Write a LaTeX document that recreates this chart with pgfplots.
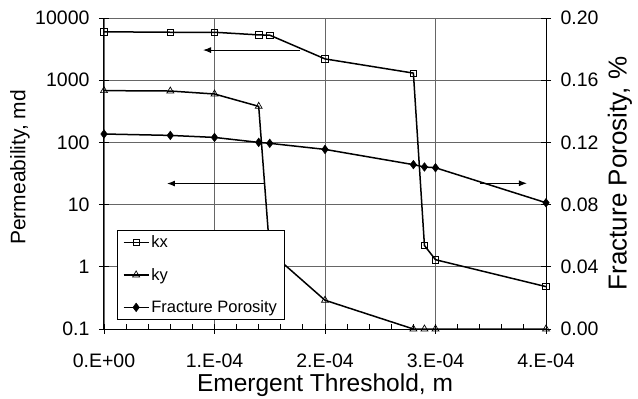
\documentclass[border=0pt]{standalone}
\usepackage{fontspec}
\setmainfont{Liberation Sans}
\usepackage{pgfplots}
\pgfplotsset{compat=1.18}
\usetikzlibrary{arrows.meta}
\newcommand\tickfont{\fontsize{19.5}{22}\selectfont}
\begin{document}
\begin{tikzpicture}
\path[use as bounding box] (-104pt,-70pt) rectangle (534pt,329pt);
\pgfplotsset{
  kxstyle/.style={black, line width=1.5pt, mark=square, mark size=3.2pt, mark options={fill=white, line width=0.7pt}},
  kystyle/.style={black, line width=1.5pt, mark=triangle, mark size=4pt, mark options={fill=white, line width=0.7pt}},
  porstyle/.style={black, line width=1.5pt, mark=diamond*, mark size=4.3pt, mark options={fill=black, line width=0.5pt}},
}
\begin{axis}[
  at={(0pt,0pt)}, anchor=south west, scale only axis, width=442pt, height=311pt,
  xmin=0, xmax=4e-4, ymode=log, log basis y=10, ymin=0.1, ymax=10000,
  axis x line*=bottom, axis y line*=left, axis line style={-, black, line width=1pt},
  xtick={0,1e-4,2e-4,3e-4,4e-4}, xticklabels={0.E+00,1.E-04,2.E-04,3.E-04,4.E-04},
  minor x tick num=4, scaled x ticks=false,
  ytick={0.1,1,10,100,1000,10000}, yticklabels={0.1,1,10,100,1000,10000},
  minor y tick style={draw=none},
  tick align=center, major tick length=10pt, minor tick length=5pt,
  minor x tick style={yshift=2.5pt},
  tick style={black, line width=0.8pt},
  xmajorgrids, ymajorgrids, major grid style={black!60, line width=0.7pt},
  ticklabel style={font=\tickfont},
  xticklabel style={yshift=-16pt},
  yticklabel style={xshift=-6pt},
  /pgf/number format/assume math mode=true,
  xlabel={Emergent Threshold, m}, ylabel={Permeability, md},
  xlabel style={font=\fontsize{24.5}{26}\selectfont, at={(axis description cs:0.5,-0.2016)}, anchor=base},
  ylabel style={font=\fontsize{21}{24}\selectfont, at={(axis description cs:-0.19,0.52)}, anchor=center},
  clip=false,
]
\addplot[kxstyle] coordinates {(0,6000) (6e-5,5900) (1e-4,5900) (1.4e-4,5350) (1.5e-4,5300) (2e-4,2200) (2.8e-4,1300) (2.9e-4,2.2) (3e-4,1.3) (4e-4,0.48)};
\addplot[kystyle] coordinates {(0,680) (6e-5,670) (1e-4,600) (1.4e-4,380) (1.5e-4,1.75) (2e-4,0.29) (2.8e-4,0.1) (2.9e-4,0.1) (3e-4,0.1) (4e-4,0.1)};
\draw[-{Latex[length=8pt,width=6pt]}, line width=1pt] (axis cs:1.774e-4,3050) -- (axis cs:0.896e-4,3050);
\draw[-{Latex[length=8pt,width=6pt]}, line width=1pt] (axis cs:1.448e-4,21.8) -- (axis cs:0.57e-4,21.8);
\end{axis}
\begin{axis}[
  at={(0pt,0pt)}, anchor=south west, scale only axis, width=442pt, height=311pt,
  xmin=0, xmax=4e-4, ymin=0, ymax=0.2,
  hide x axis, axis y line*=right, axis line style={-, black, line width=1pt},
  ytick={0,0.04,0.08,0.12,0.16,0.2},
  yticklabel style={font=\tickfont, xshift=6pt, /pgf/number format/.cd, fixed, fixed zerofill, precision=2},
  /pgf/number format/assume math mode=true,
  tick align=center, major tick length=10pt,
  tick style={black, line width=0.8pt},
  ylabel={Fracture Porosity, \%},
  ylabel style={font=\fontsize{26}{28}\selectfont, at={(axis description cs:1.167,0.5)}, anchor=center},
  legend style={at={(axis description cs:0.0294,0.0289)}, anchor=south west, draw=black, line width=0.8pt, fill=white,
    font=\fontsize{16.5}{18}\selectfont, inner xsep=5.5pt, inner ysep=3.5pt, row sep=15pt, cells={anchor=west}},
  legend image code/.code={\draw[mark repeat=2, mark phase=2, #1] plot coordinates {(0pt,0pt) (12.5pt,0pt) (25pt,0pt)};},
  clip=false,
]
\addlegendimage{kxstyle}\addlegendentry{kx}
\addlegendimage{kystyle}\addlegendentry{ky}
\addplot[porstyle] coordinates {(0,0.1254) (6e-5,0.1245) (1e-4,0.1232) (1.4e-4,0.120) (1.5e-4,0.1194) (2e-4,0.1155) (2.8e-4,0.1057) (2.9e-4,0.1042) (3e-4,0.1037) (4e-4,0.0812)};
\addlegendentry{Fracture Porosity}
\draw[-{Latex[length=8pt,width=6pt]}, line width=1pt] (axis cs:3.403e-4,0.0937) -- (axis cs:3.828e-4,0.0937);
\end{axis}
\end{tikzpicture}
\end{document}
